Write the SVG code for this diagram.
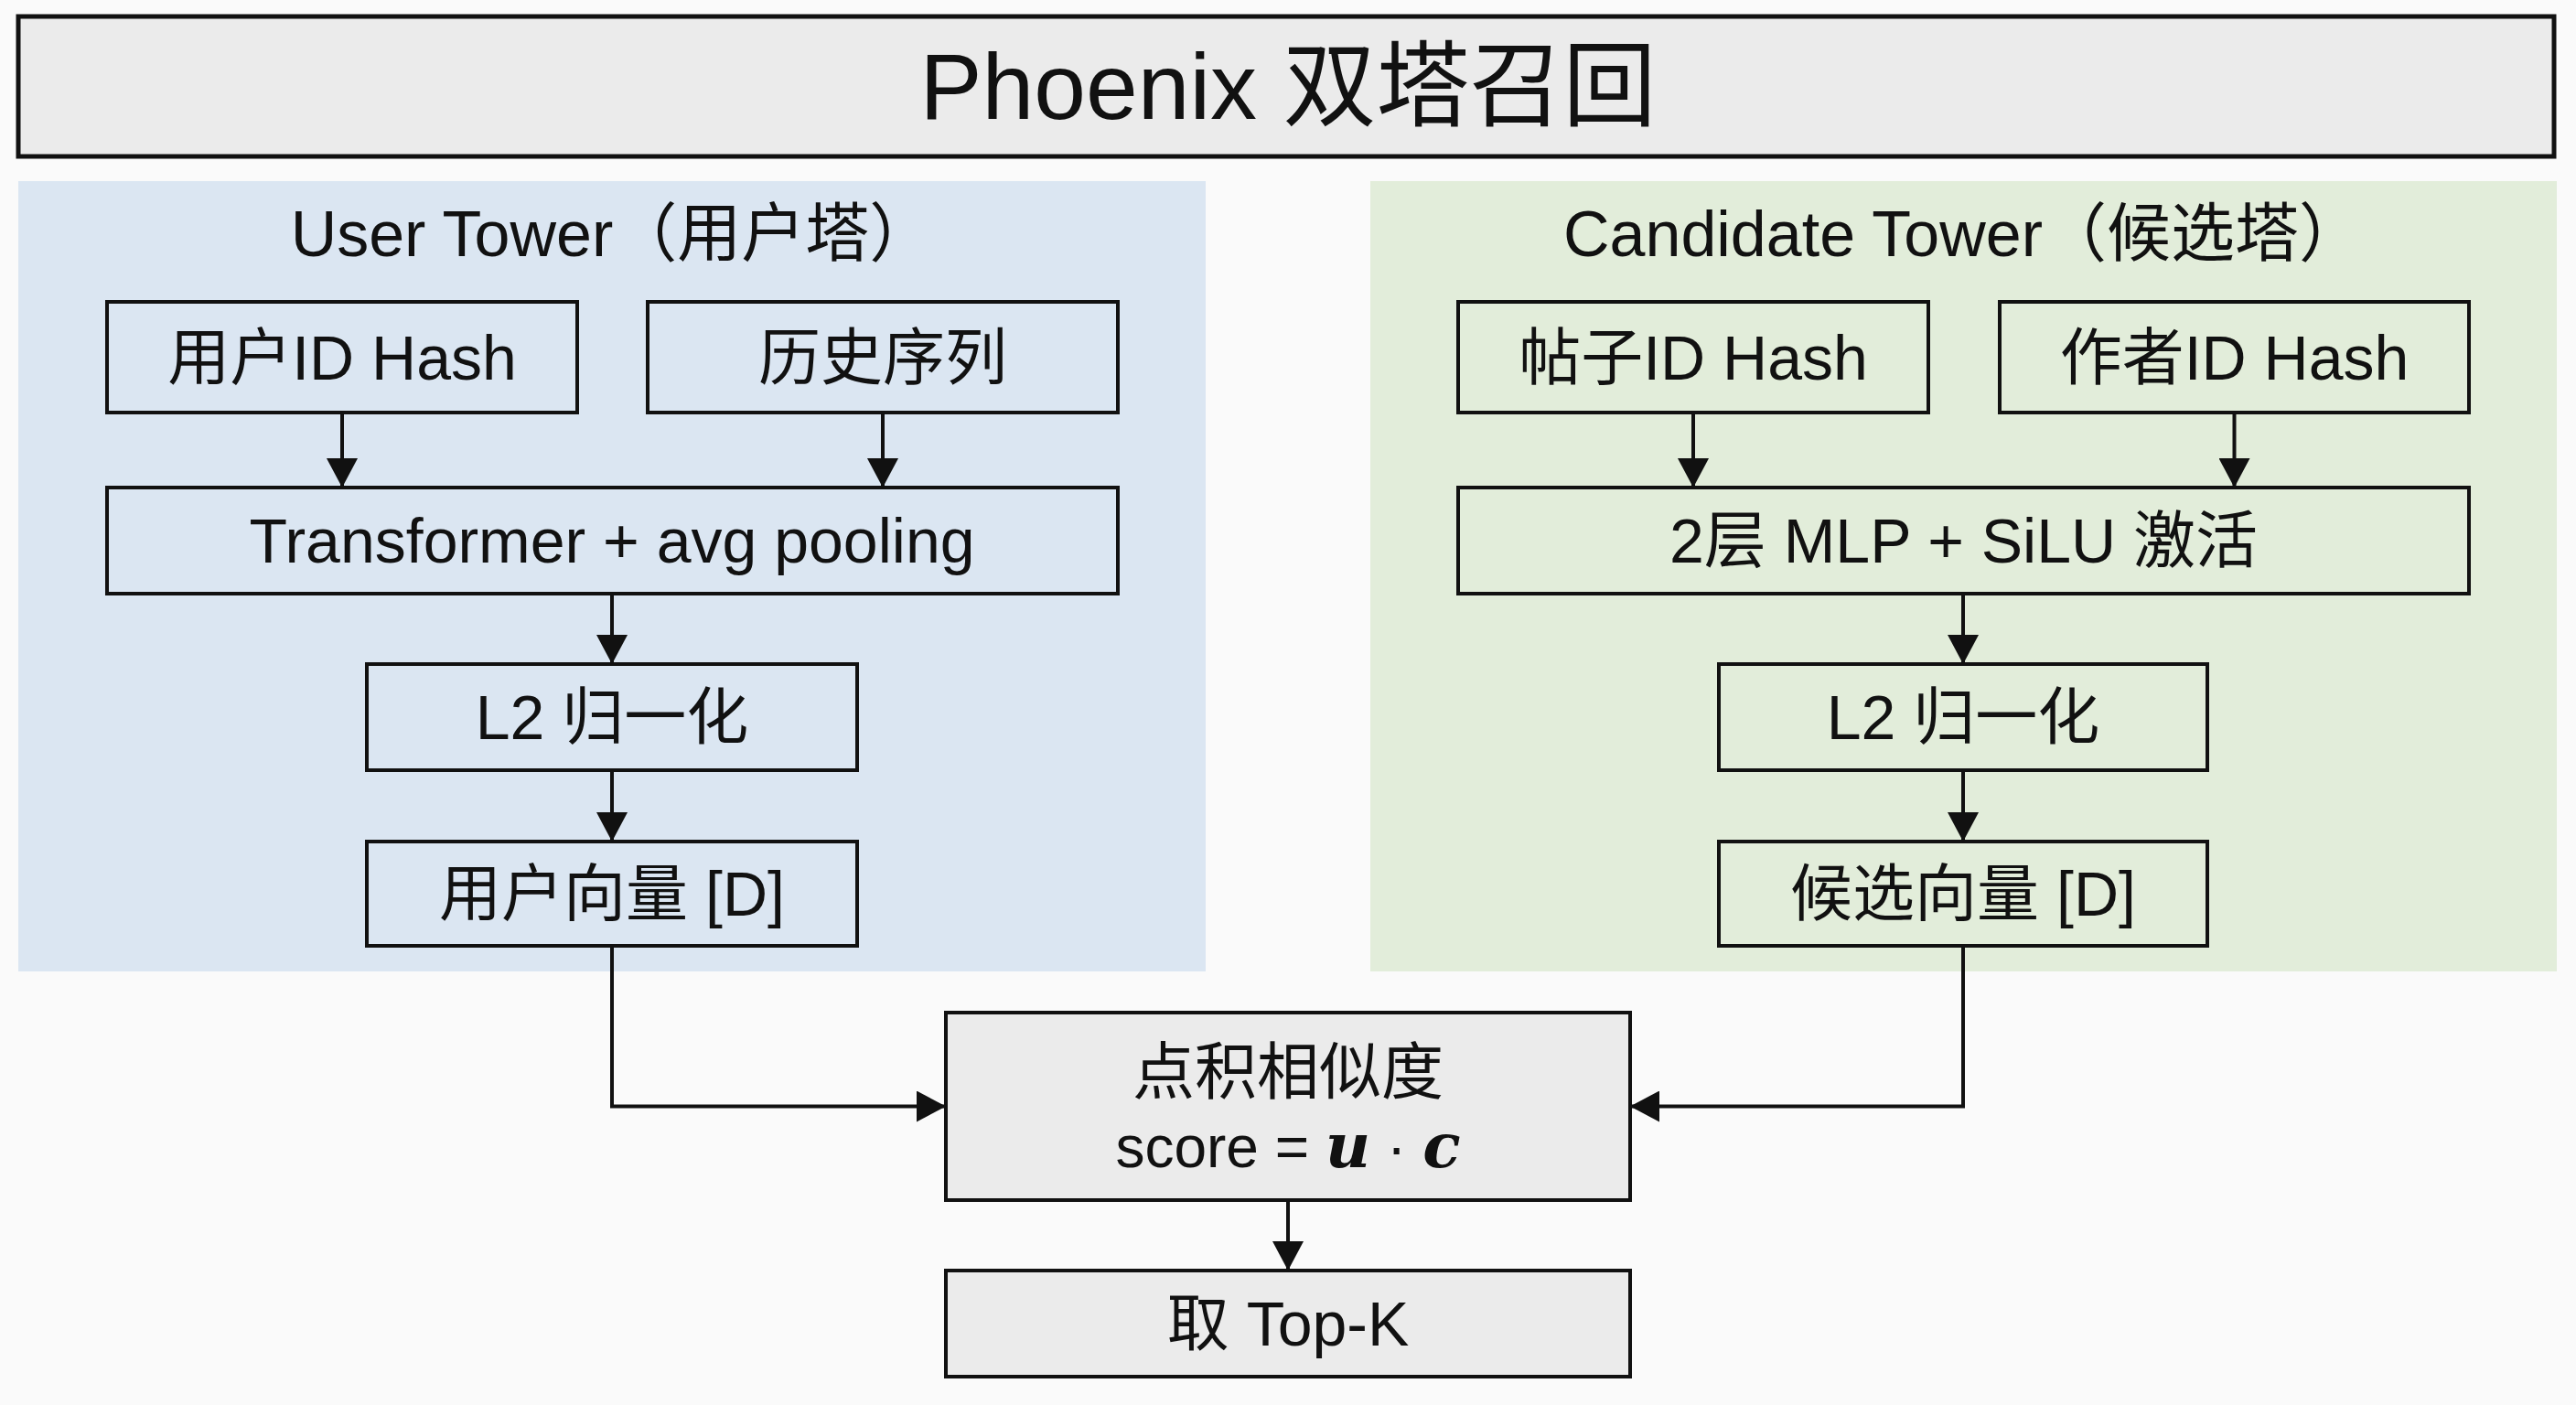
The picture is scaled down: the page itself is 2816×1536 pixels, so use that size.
<svg xmlns="http://www.w3.org/2000/svg" width="2816" height="1536" viewBox="0 0 2816 1536">
<defs>
<style>
.bg{fill:#fafafa}
.title-box{fill:#ebebeb;stroke:#111;stroke-width:5}
.panel-u{fill:#dbe6f2}
.panel-c{fill:#e2edda}
.box{fill:none;stroke:#111;stroke-width:4}
.gbox{fill:#ebebeb;stroke:#111;stroke-width:4}
.t{font-family:"Liberation Sans","Noto Sans CJK SC",Arial,sans-serif;fill:#111;text-anchor:middle}
.lbl{font-size:68px}
.ptitle{font-size:70px}
.main{font-size:102px}
.math{font-family:"DejaVu Serif","Liberation Serif",serif;font-weight:bold;font-style:italic}
.conn{fill:none;stroke:#111;stroke-width:4}
</style>
<marker id="arr" markerUnits="userSpaceOnUse" markerWidth="32" markerHeight="34" refX="32" refY="17" orient="auto">
<path d="M0,0 L32,17 L0,34 Z" fill="#111"/>
</marker>
</defs>
<rect class="bg" x="0" y="0" width="2816" height="1536"/>

<g id="title">
<rect class="title-box" x="20" y="18" width="2772" height="153"/>
<text class="t main" x="1408" y="130">Phoenix 双塔召回</text>
</g>

<g id="user-tower">
<rect class="panel-u" x="20" y="198" width="1298" height="864"/>
<text class="t ptitle" x="669" y="280">User Tower（用户塔）</text>
</g>

<g id="candidate-tower">
<rect class="panel-c" x="1498" y="198" width="1297" height="864"/>
<text class="t ptitle" x="2146" y="280">Candidate Tower（候选塔）</text>
</g>

<g id="user-id-hash">
<rect class="box" x="117" y="330" width="514" height="121"/>
<text class="t lbl" x="374" y="415">用户ID Hash</text>
</g>
<g id="history-seq">
<rect class="box" x="708" y="330" width="514" height="121"/>
<text class="t lbl" x="965" y="415">历史序列</text>
</g>
<g id="transformer">
<rect class="box" x="117" y="533" width="1105" height="116"/>
<text class="t lbl" x="669" y="615">Transformer + avg pooling</text>
</g>
<g id="user-l2">
<rect class="box" x="401" y="726" width="536" height="116"/>
<text class="t lbl" x="669" y="808">L2 归一化</text>
</g>
<g id="user-vec">
<rect class="box" x="401" y="920" width="536" height="114"/>
<text class="t lbl" x="669" y="1001">用户向量 [D]</text>
</g>

<g id="post-id-hash">
<rect class="box" x="1594" y="330" width="514" height="121"/>
<text class="t lbl" x="1851" y="415">帖子ID Hash</text>
</g>
<g id="author-id-hash">
<rect class="box" x="2186" y="330" width="513" height="121"/>
<text class="t lbl" x="2442.5" y="415">作者ID Hash</text>
</g>
<g id="mlp">
<rect class="box" x="1594" y="533" width="1105" height="116"/>
<text class="t lbl" x="2146.5" y="615">2层 MLP + SiLU 激活</text>
</g>
<g id="cand-l2">
<rect class="box" x="1879" y="726" width="534" height="116"/>
<text class="t lbl" x="2146" y="808">L2 归一化</text>
</g>
<g id="cand-vec">
<rect class="box" x="1879" y="920" width="534" height="114"/>
<text class="t lbl" x="2146" y="1001">候选向量 [D]</text>
</g>

<g id="dot-product">
<rect class="gbox" x="1034" y="1107" width="748" height="205"/>
<text class="t lbl" x="1408" y="1196">点积相似度</text>
<text class="t" style="font-size:64px" x="1408" y="1276">score = <tspan class="math" style="font-size:68px">u</tspan> · <tspan class="math" style="font-size:68px">c</tspan></text>
</g>

<g id="topk">
<rect class="gbox" x="1034" y="1389" width="748" height="116"/>
<text class="t lbl" x="1408" y="1471">取 Top-K</text>
</g>

<g id="connectors">
<line class="conn" x1="374" y1="451" x2="374" y2="533" marker-end="url(#arr)"/>
<line class="conn" x1="965" y1="451" x2="965" y2="533" marker-end="url(#arr)"/>
<line class="conn" x1="669" y1="649" x2="669" y2="726" marker-end="url(#arr)"/>
<line class="conn" x1="669" y1="842" x2="669" y2="920" marker-end="url(#arr)"/>
<path class="conn" d="M669,1034 V1209.5 H1034" marker-end="url(#arr)"/>
<line class="conn" x1="1851" y1="451" x2="1851" y2="533" marker-end="url(#arr)"/>
<line class="conn" x1="2442.5" y1="451" x2="2442.5" y2="533" marker-end="url(#arr)"/>
<line class="conn" x1="2146" y1="649" x2="2146" y2="726" marker-end="url(#arr)"/>
<line class="conn" x1="2146" y1="842" x2="2146" y2="920" marker-end="url(#arr)"/>
<path class="conn" d="M2146,1034 V1209.5 H1782" marker-end="url(#arr)"/>
<line class="conn" x1="1408" y1="1312" x2="1408" y2="1389" marker-end="url(#arr)"/>
</g>
</svg>
